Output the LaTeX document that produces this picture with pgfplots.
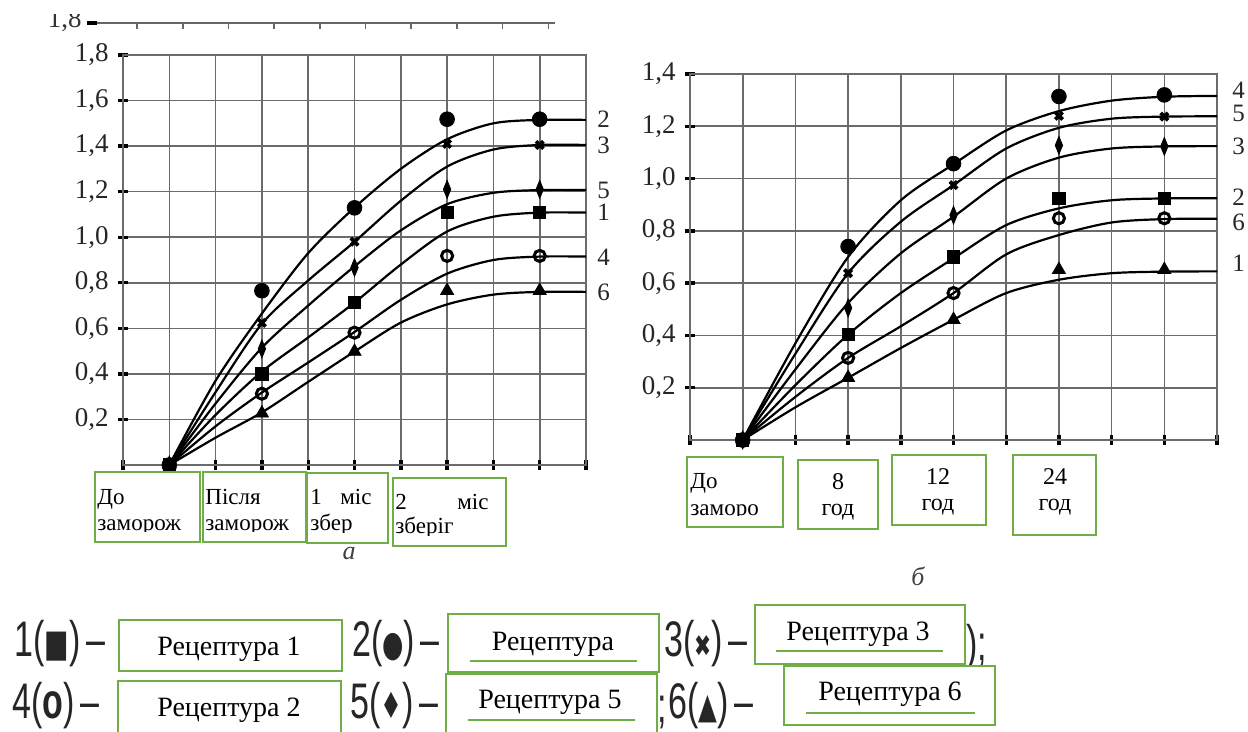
\documentclass[border=0pt]{standalone}
\usepackage{graphicx}
\usepackage{pgfplots}
\pgfplotsset{compat=1.18}
\usepackage{fontspec}
\setmainfont{Liberation Serif}
\newfontfamily\sansf{Liberation Sans}
\newfontfamily\symf{DejaVu Sans}
\definecolor{boxgreen}{RGB}{112,173,71}
\newcommand\tl{\fontsize{13.5bp}{14bp}\selectfont}
\newcommand\rl{\fontsize{12.5bp}{13bp}\selectfont}
\newcommand\bx{\fontsize{11.5bp}{13bp}\selectfont}
\newcommand\bxb{\fontsize{12bp}{13bp}\selectfont}
\newcommand\rc{\fontsize{14bp}{15bp}\selectfont}
\newcommand\lgf{\fontsize{25bp}{25bp}\sansf}
\newcommand\gbox[4]{\draw[boxgreen,line width=1.3bp] (#1,{731-#2}) rectangle (#3,{731-#4});}
\newcommand\T[3]{\node[anchor=base west,inner sep=0pt,font=\bx] at (#1,{731-#2}) {#3};}
\newcommand\TC[3]{\node[anchor=base,inner sep=0pt,font=\bxb] at (#1,{731-#2}) {#3};}
\newcommand\LG[3]{\node[anchor=west,inner sep=0pt,text=black!85] at (#1,{731-#2}) {\scalebox{0.68}[1]{\lgf #3}};}
\newcommand\RC[3]{\node[anchor=center,inner sep=0pt,font=\rc] at (#1,{731-#2}) {#3};}
\newcommand\UL[3]{\draw[boxgreen,line width=1.2bp] (#1,{731-#3}) -- (#2,{731-#3});}
\pgfplotsset{
  myax/.style={
    scale only axis, clip=false,
    xmin=0, xmax=10, ymin=0,
    xtick={0,1,2,3,4,5,6,7,8,9,10}, xticklabels={},
    tick pos=left, tick align=center,
    major tick length=5bp,
    tick style={black, line width=1.7bp},
    grid=major,
    major grid style={draw=black!58, line width=0.8bp},
    axis line style={draw=black!58, line width=0.8bp},
    /pgf/number format/assume math mode=true,
    yticklabel style={font=\tl, text=black!85, inner sep=0pt, xshift=-4.5bp,
      /pgf/number format/.cd, fixed, fixed zerofill, precision=1, use comma},
  },
  cur/.style={black, line width=1.1bp, smooth, tension=0.5, mark=none},
  mA/.style={only marks, black, mark=*, mark size=3.7, mark options={fill=black, solid}},
  mB/.style={only marks, black, mark=x, mark size=2.6, mark options={line width=1.9bp, solid}},
  mC/.style={only marks, black, mark=diamond*, mark size=4.5, mark options={xscale=0.55, fill=black, solid}},
  mD/.style={only marks, black, mark=square*, mark size=3.1, mark options={fill=black, solid}},
  mE/.style={only marks, black, mark=o, mark size=2.8, mark options={line width=1.5bp, fill=white, solid}},
  mF/.style={only marks, black, mark=triangle*, mark size=3.8, mark options={fill=black, solid}},
}
\begin{document}
\begin{tikzpicture}[x=0.5bp,y=0.5bp]
\useasboundingbox (0,0) rectangle (1248,731);
\clip (0,0) rectangle (1248,731);
\fill[white] (0,0) rectangle (1248,731);
\coordinate (PA) at (123,266);
\coordinate (PB) at (690,291);

% ghost top line of panel a
\begin{scope}
\clip (0,0) rectangle (1248,{731-15});
\draw[black!60, line width=0.75bp] (87,{731-23}) -- (555,{731-23});
\draw[black, line width=1.7bp] (87,{731-23}) -- (97,{731-23});
\foreach \k in {0,...,9} {\draw[black!60, line width=0.8bp] ({137+45.7*\k},{731-23}) -- ({137+45.7*\k},{731-29});}
\node[anchor=east, inner sep=0pt, font=\tl, text=black!80] at (82,{731-21}) {1,8};
\end{scope}

% ---------------- panel a ----------------
\begin{axis}[myax, at={(PA)}, anchor=south west,
  width=231.5bp, height=205bp, ymax=1.8,
  ytick={0.2,0.4,0.6,0.8,1.0,1.2,1.4,1.6,1.8}]
\addplot[cur] coordinates {(1,0)(2,0.37)(3,0.665)(4,0.93)(5,1.13)(6,1.30)(7,1.43)(8,1.50)(9,1.515)(10,1.515)};
\addplot[cur] coordinates {(1,0)(2,0.32)(3,0.62)(4,0.81)(5,0.98)(6,1.16)(7,1.31)(8,1.385)(9,1.405)(10,1.405)};
\addplot[cur] coordinates {(1,0)(2,0.27)(3,0.515)(4,0.70)(5,0.872)(6,1.03)(7,1.145)(8,1.195)(9,1.207)(10,1.207)};
\addplot[cur] coordinates {(1,0)(2,0.22)(3,0.41)(4,0.56)(5,0.713)(6,0.88)(7,1.025)(8,1.09)(9,1.108)(10,1.108)};
\addplot[cur] coordinates {(1,0)(2,0.17)(3,0.318)(4,0.45)(5,0.584)(6,0.725)(7,0.84)(8,0.90)(9,0.915)(10,0.915)};
\addplot[cur] coordinates {(1,0)(2,0.12)(3,0.231)(4,0.365)(5,0.498)(6,0.625)(7,0.705)(8,0.748)(9,0.76)(10,0.76)};
\addplot[mE] coordinates {(3,0.313)(5,0.581)(7,0.918)(9,0.918)};
\addplot[mA] coordinates {(1,0)(3,0.765)(5,1.129)(7,1.518)(9,1.518)};
\addplot[mB] coordinates {(1,0)(3,0.624)(5,0.98)(7,1.41)(9,1.405)};
\addplot[mC] coordinates {(1,0)(3,0.51)(5,0.867)(7,1.21)(9,1.21)};
\addplot[mF] coordinates {(1,0)(3,0.227)(5,0.498)(7,0.765)(9,0.765)};
\addplot[mD] coordinates {(1,0)(3,0.40)(5,0.713)(7,1.11)(9,1.11)};
\foreach \lab/\v in {2/1.519, 3/1.405, 5/1.207, 1/1.11, 4/0.913, 6/0.76} {
  \edef\tmp{\noexpand\node[anchor=west, inner sep=0pt, font=\noexpand\rl, text=black!85, xshift=5.5bp] at (axis cs:10,\v) {\lab};}\tmp
}
\end{axis}

% ---------------- panel b ----------------
\begin{axis}[myax, at={(PB)}, anchor=south west,
  width=263.5bp, height=183bp, ymax=1.4,
  ytick={0.2,0.4,0.6,0.8,1.0,1.2,1.4}]
\addplot[cur] coordinates {(1,0)(2,0.37)(3,0.70)(4,0.917)(5,1.055)(6,1.184)(7,1.258)(8,1.298)(9,1.313)(10,1.316)};
\addplot[cur] coordinates {(1,0)(2,0.33)(3,0.638)(4,0.835)(5,0.975)(6,1.115)(7,1.194)(8,1.229)(9,1.237)(10,1.238)};
\addplot[cur] coordinates {(1,0)(2,0.27)(3,0.524)(4,0.714)(5,0.854)(6,1.0)(7,1.08)(8,1.115)(9,1.123)(10,1.124)};
\addplot[cur] coordinates {(1,0)(2,0.21)(3,0.403)(4,0.562)(5,0.695)(6,0.822)(7,0.886)(8,0.917)(9,0.924)(10,0.925)};
\addplot[cur] coordinates {(1,0)(2,0.165)(3,0.314)(4,0.435)(5,0.562)(6,0.71)(7,0.784)(8,0.832)(9,0.845)(10,0.846)};
\addplot[cur] coordinates {(1,0)(2,0.125)(3,0.238)(4,0.352)(5,0.46)(6,0.562)(7,0.613)(8,0.638)(9,0.644)(10,0.645)};
\addplot[mE] coordinates {(3,0.314)(5,0.562)(7,0.848)(9,0.848)};
\addplot[mA] coordinates {(1,0)(3,0.74)(5,1.057)(7,1.314)(9,1.32)};
\addplot[mB] coordinates {(1,0)(3,0.638)(5,0.975)(7,1.24)(9,1.237)};
\addplot[mC] coordinates {(1,0)(3,0.505)(5,0.86)(7,1.127)(9,1.123)};
\addplot[mF] coordinates {(1,0)(3,0.238)(5,0.46)(7,0.651)(9,0.651)};
\addplot[mD] coordinates {(1,0)(3,0.403)(5,0.70)(7,0.924)(9,0.924)};
\foreach \lab/\v in {4/1.339, 5/1.25, 3/1.125, 2/0.93, 6/0.834, 1/0.677} {
  \edef\tmp{\noexpand\node[anchor=west, inner sep=0pt, font=\noexpand\rl, text=black!85, xshift=7.5bp] at (axis cs:10,\v) {\lab};}\tmp
}
\end{axis}

% ---------------- boxes under panel a ----------------
\fill[white] (95,{731-472}) rectangle (507,{731-546});
\begin{scope}\clip (95,{731-472}) rectangle (200,{731-532});
\T{97}{504}{До}\T{97}{531}{заморож}\end{scope}
\begin{scope}\clip (203,{731-472}) rectangle (306,{731-532});
\T{205}{504}{Після}\T{205}{531}{заморож}\end{scope}
\begin{scope}\clip (307,{731-473}) rectangle (388,{731-533});
\T{310}{504}{1}\T{340}{504}{міс}\T{310}{531}{збер}\end{scope}
\begin{scope}\clip (393,{731-478}) rectangle (506,{731-536});
\T{395}{509}{2}\T{457}{509}{міс}\T{395}{534}{зберіг}\end{scope}
\gbox{95}{472}{200}{542}
\gbox{203}{472}{306}{542}
\gbox{307}{473}{388}{543}
\gbox{393}{478}{506}{546}
\node[anchor=base, inner sep=0pt, font=\fontsize{13bp}{14bp}\selectfont\itshape, text=black!75] at (349,{731-560}) {а};

% ---------------- boxes under panel b ----------------
\fill[white] (687,{731-455}) rectangle (1096,{731-535});
\begin{scope}\clip (687,{731-457}) rectangle (783,{731-516});
\T{690}{489}{До}\T{690}{516}{заморо}\end{scope}
\TC{838}{490}{8}\TC{838}{516}{год}
\TC{938}{485}{12}\TC{938}{510}{год}
\TC{1055}{485}{24}\TC{1055}{510}{год}
\gbox{687}{457}{783}{527}
\gbox{798}{460}{878}{529}
\gbox{892}{455}{986}{525}
\gbox{1013}{455}{1096}{535}
\node[anchor=base, inner sep=0pt, font=\fontsize{13bp}{14bp}\selectfont\itshape, text=black!75] at (918,{731-585}) {б};

% ---------------- legend ----------------
\LG{14}{644}{1({\symf\fontsize{19bp}{19bp}\selectfont■})\,–}
\LG{352}{644}{2({\symf\fontsize{18bp}{18bp}\selectfont●})\,–}
\LG{664}{644}{3({\symf\fontsize{15bp}{15bp}\selectfont✖})\,–}
\LG{12}{706}{4({\bfseries o})\,–}
\LG{350}{706}{5({\symf\fontsize{18bp}{18bp}\selectfont♦})\,–}
\LG{668}{706}{6({\symf\fontsize{18bp}{18bp}\selectfont▲})\,–}
\node[anchor=west,inner sep=0pt,text=black!85] at (966,{731-648}) {\scalebox{0.68}[1]{\lgf );}};
\node[anchor=west,inner sep=0pt,text=black!85] at (657,{731-712}) {\scalebox{0.68}[1]{\lgf ;}};

\fill[white] (119,{731-620}) rectangle (342,{731-671});
\fill[white] (448,{731-614}) rectangle (659,{731-672});
\fill[white] (755,{731-605}) rectangle (965,{731-664});
\fill[white] (118,{731-681}) rectangle (341,{731-735});
\fill[white] (446,{731-674}) rectangle (657,{731-735});
\fill[white] (784,{731-666}) rectangle (995,{731-725});
\gbox{119}{620}{342}{671}
\gbox{448}{614}{659}{672}
\gbox{755}{605}{965}{664}
\gbox{118}{681}{341}{735}
\gbox{446}{674}{657}{735}
\gbox{784}{666}{995}{725}
\RC{229}{649}{Рецептура 1}
\RC{553}{644}{Рецептура}\UL{470}{637}{661}
\RC{858}{634}{Рецептура 3}\UL{776}{943}{651}
\RC{229}{710}{Рецептура 2}
\RC{550}{702}{Рецептура 5}\UL{468}{635}{720}
\RC{890}{694}{Рецептура 6}\UL{806}{975}{713}
\end{tikzpicture}
\end{document}
